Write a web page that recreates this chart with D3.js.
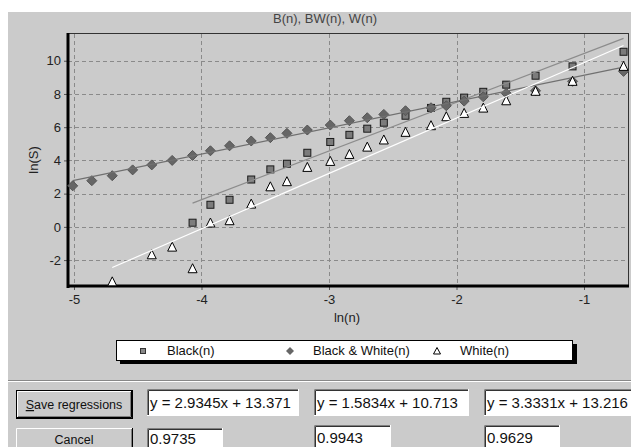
<!DOCTYPE html>
<html>
<head>
<meta charset="utf-8">
<script src="https://cdn.jsdelivr.net/npm/d3@7"></script>
<style>
body { margin: 0; background: #fff; }
svg { display: block; font-family: "Liberation Sans", Arial, sans-serif; }
</style>
</head>
<body>
<svg id="chart" width="631" height="447"></svg>
<script>
// ln(n) values shared by the three series
var lnN = [-5.01, -4.86, -4.70, -4.54, -4.39, -4.23, -4.07, -3.93, -3.78, -3.61, -3.46, -3.33, -3.17,
           -2.99, -2.84, -2.70, -2.57, -2.40, -2.20, -2.08, -1.94, -1.79, -1.61, -1.38, -1.09, -0.69];
// ln(S) per series, null where there is no point
var blackS = [null, null, null, null, null, null, 0.25, 1.33, 1.63, 2.85, 3.46, 3.80, 4.46,
              5.11, 5.54, 5.91, 6.27, 6.69, 7.16, 7.53, 7.78, 8.13, 8.56, 9.10, 9.66, 10.54];
var bwS = [2.47, 2.78, 3.08, 3.43, 3.73, 4.00, 4.30, 4.58, 4.88, 5.17, 5.37, 5.63, 5.83,
           6.13, 6.39, 6.57, 6.77, 6.99, 7.17, 7.29, 7.57, 7.83, 8.04, 8.19, 8.76, 9.36];
var whiteS = [null, null, -3.31, null, -1.68, -1.22, -2.52, 0.23, 0.37, 1.37, 2.41, 2.72, 3.58,
              3.94, 4.36, 4.80, 5.23, 5.69, 6.09, 6.63, 6.83, 7.15, 7.59, 8.16, 8.76, 9.66];

var seriesNames = ["Black(n)", "Black & White(n)", "White(n)"];
var slopes = [2.9345, 1.5834, 3.3331];
var intercepts = [13.371, 10.713, 13.216];
var r2 = ["0.9735", "0.9943", "0.9629"];

var xTicks = [-5, -4, -3, -2, -1];
var yTicks = [-2, 0, 2, 4, 6, 8, 10];

var svg = d3.select('#chart');
var bg = '#cbcbcb';

// panel
svg.append('rect').attr('x', 8).attr('y', 12).attr('width', 623).attr('height', 435).attr('fill', bg);

var x = d3.scaleLinear().domain([-5.047, -0.655]).range([68, 628]);
var y = d3.scaleLinear().domain([-3.56, 11.61]).range([286, 34]);

svg.append('text').attr('x', 325).attr('y', 23).attr('text-anchor', 'middle')
  .attr('font-size', 13).attr('fill', '#444').text('B(n), BW(n), W(n)');

// grid
var grid = svg.append('g').attr('stroke', '#8a8a8a').attr('stroke-dasharray', '4,3');
grid.selectAll('.gy').data(yTicks).enter().append('line')
  .attr('x1', 68).attr('x2', 628)
  .attr('y1', function(d){ return Math.round(y(d)) + 0.5; })
  .attr('y2', function(d){ return Math.round(y(d)) + 0.5; });
grid.selectAll('.gx').data(xTicks).enter().append('line')
  .attr('y1', 34).attr('y2', 286)
  .attr('x1', function(d){ return Math.round(x(d)) + 0.5; })
  .attr('x2', function(d){ return Math.round(x(d)) + 0.5; });

// frame
svg.append('rect').attr('x', 68.5).attr('y', 33.5).attr('width', 560).attr('height', 253)
  .attr('fill', 'none').attr('stroke', '#333');

// axes
var yAxis = svg.append('g').attr('transform', 'translate(68,0)')
  .call(d3.axisLeft(y).tickValues(yTicks).tickSize(4).tickFormat(function(d){ return String(d); }));
var xAxis = svg.append('g').attr('transform', 'translate(0,286)')
  .call(d3.axisBottom(x).tickValues(xTicks).tickSize(4).tickFormat(function(d){ return String(d); }));
[yAxis, xAxis].forEach(function(a){
  a.select('.domain').remove();
  a.selectAll('.tick line').attr('stroke', '#555');
  a.selectAll('.tick text').attr('font-size', 13).attr('fill', '#222')
    .attr('font-family', '"Liberation Sans", Arial, sans-serif');
});
yAxis.selectAll('.tick text').attr('x', -7);
xAxis.selectAll('.tick text').attr('y', 9);

svg.append('line').attr('x1', 68).attr('x2', 68).attr('y1', 33).attr('y2', 288)
  .attr('stroke', '#000').attr('stroke-width', 3);
svg.append('line').attr('x1', 67).attr('x2', 629).attr('y1', 286).attr('y2', 286)
  .attr('stroke', '#000').attr('stroke-width', 3);

svg.append('text').attr('transform', 'translate(38,160) rotate(-90)').attr('text-anchor', 'middle')
  .attr('font-size', 13).attr('fill', '#222').text('ln(S)');
svg.append('text').attr('x', 347).attr('y', 322).attr('text-anchor', 'middle')
  .attr('font-size', 13).attr('fill', '#222').text('ln(n)');

// markers
var markers = [
  function(g){ g.append('rect').attr('x', -3.5).attr('y', -3.5).attr('width', 7).attr('height', 7)
      .attr('fill', '#7c7c7c').attr('stroke', '#1a1a1a'); },
  function(g){ g.append('path').attr('d', 'M0,-5L5,0L0,5L-5,0Z')
      .attr('fill', '#666').attr('stroke', '#555'); },
  function(g){ g.append('path').attr('d', 'M0,-5L4.5,4L-4.5,4Z')
      .attr('fill', '#fff').attr('stroke', '#000'); }
];
var lineColors = ['#8c8c8c', '#707070', '#ffffff'];
var values = [blackS, bwS, whiteS];

var plot = svg.append('g');
values.forEach(function(vals, k){
  var pts = lnN.map(function(v, i){ return {x: v, y: vals[i]}; })
    .filter(function(d){ return d.y !== null; });
  plot.selectAll('.p' + k).data(pts).enter().append('g')
    .attr('transform', function(d){ return 'translate(' + x(d.x) + ',' + y(d.y) + ')'; })
    .each(function(){ markers[k](d3.select(this)); });
  var ext = d3.extent(pts, function(d){ return d.x; });
  plot.append('line')
    .attr('x1', x(ext[0])).attr('y1', y(slopes[k] * ext[0] + intercepts[k]))
    .attr('x2', x(ext[1])).attr('y2', y(slopes[k] * ext[1] + intercepts[k]))
    .attr('stroke', lineColors[k]).attr('stroke-width', 1.2);
});

// legend
svg.append('rect').attr('x', 120).attr('y', 344).attr('width', 457).attr('height', 20).attr('fill', '#000');
svg.append('rect').attr('x', 116.5).attr('y', 340.5).attr('width', 456).attr('height', 20)
  .attr('fill', '#fff').attr('stroke', '#000');
var legMarkX = [143, 290, 437];
var legTextX = [167, 313, 460];
var legMarkers = [
  function(g){ g.append('rect').attr('x', -2.5).attr('y', -2.5).attr('width', 5).attr('height', 5)
      .attr('fill', '#888').attr('stroke', '#333'); },
  function(g){ g.append('path').attr('d', 'M0,-4L4,0L0,4L-4,0Z').attr('fill', '#666'); },
  function(g){ g.append('path').attr('d', 'M0,-3.5L3.5,3L-3.5,3Z').attr('fill', 'none').attr('stroke', '#000'); }
];
seriesNames.forEach(function(n, k){
  var g = svg.append('g').attr('transform', 'translate(' + legMarkX[k] + ',351)');
  legMarkers[k](g);
  svg.append('text').attr('x', legTextX[k]).attr('y', 355).attr('font-size', 13).attr('fill', '#111').text(n);
});

// separator
svg.append('line').attr('x1', 8).attr('x2', 631).attr('y1', 380.5).attr('y2', 380.5).attr('stroke', '#888');
svg.append('line').attr('x1', 8).attr('x2', 631).attr('y1', 381.5).attr('y2', 381.5).attr('stroke', '#fff');

// buttons
function button(x0, y0, w, h, isDefault) {
  var g = svg.append('g');
  if (isDefault) {
    g.append('rect').attr('x', x0 + 0.5).attr('y', y0 + 0.5).attr('width', w - 1).attr('height', h - 1)
      .attr('fill', bg).attr('stroke', '#000');
    x0 += 1; y0 += 1; w -= 2; h -= 2;
  } else {
    g.append('rect').attr('x', x0).attr('y', y0).attr('width', w).attr('height', h).attr('fill', bg);
  }
  g.append('path').attr('d', 'M' + (x0 + 0.5) + ',' + (y0 + h - 1) + 'V' + (y0 + 0.5) + 'H' + (x0 + w - 1))
    .attr('fill', 'none').attr('stroke', '#fff');
  g.append('path').attr('d', 'M' + (x0) + ',' + (y0 + h - 0.5) + 'H' + (x0 + w - 0.5) + 'V' + y0)
    .attr('fill', 'none').attr('stroke', '#000');
  g.append('path').attr('d', 'M' + (x0 + 1) + ',' + (y0 + h - 1.5) + 'H' + (x0 + w - 1.5) + 'V' + (y0 + 1))
    .attr('fill', 'none').attr('stroke', '#808080');
  return g;
}
var b1 = button(16, 390, 117, 29, true);
var t1 = b1.append('text').attr('x', 74).attr('y', 409).attr('text-anchor', 'middle')
  .attr('font-size', 12.5).attr('fill', '#111');
t1.append('tspan').style('text-decoration', 'underline').text('S');
t1.append('tspan').text('ave regressions');
var b2 = button(16, 428, 117, 24, false);
b2.append('text').attr('x', 74).attr('y', 444).attr('text-anchor', 'middle')
  .attr('font-size', 12.5).attr('fill', '#111').text('Cancel');

// text boxes
function textBox(x0, y0, w, h, txt, ty) {
  var g = svg.append('g');
  g.append('rect').attr('x', x0).attr('y', y0).attr('width', w).attr('height', h).attr('fill', '#fff');
  g.append('path').attr('d', 'M' + (x0 + 0.5) + ',' + (y0 + h) + 'V' + (y0 + 0.5) + 'H' + (x0 + w))
    .attr('fill', 'none').attr('stroke', '#808080');
  g.append('path').attr('d', 'M' + (x0 + 1.5) + ',' + (y0 + h - 1) + 'V' + (y0 + 1.5) + 'H' + (x0 + w - 1))
    .attr('fill', 'none').attr('stroke', '#333');
  g.append('path').attr('d', 'M' + x0 + ',' + (y0 + h - 0.5) + 'H' + (x0 + w - 0.5) + 'V' + y0)
    .attr('fill', 'none').attr('stroke', '#fff');
  g.append('text').attr('x', x0 + 3).attr('y', ty).attr('font-size', 15).attr('fill', '#111').text(txt);
}
var eqX = [147, 314, 484];
var eqW = [152, 155, 150];
var rY = [428, 425, 425];
var rW = [76, 77, 76];
slopes.forEach(function(s, k){
  textBox(eqX[k], 389, eqW[k], 27, 'y = ' + s + 'x + ' + intercepts[k], 408);
  textBox(eqX[k], rY[k], rW[k], 24, r2[k], Math.min(rY[k] + 18, 444));
});
</script>
</body>
</html>
